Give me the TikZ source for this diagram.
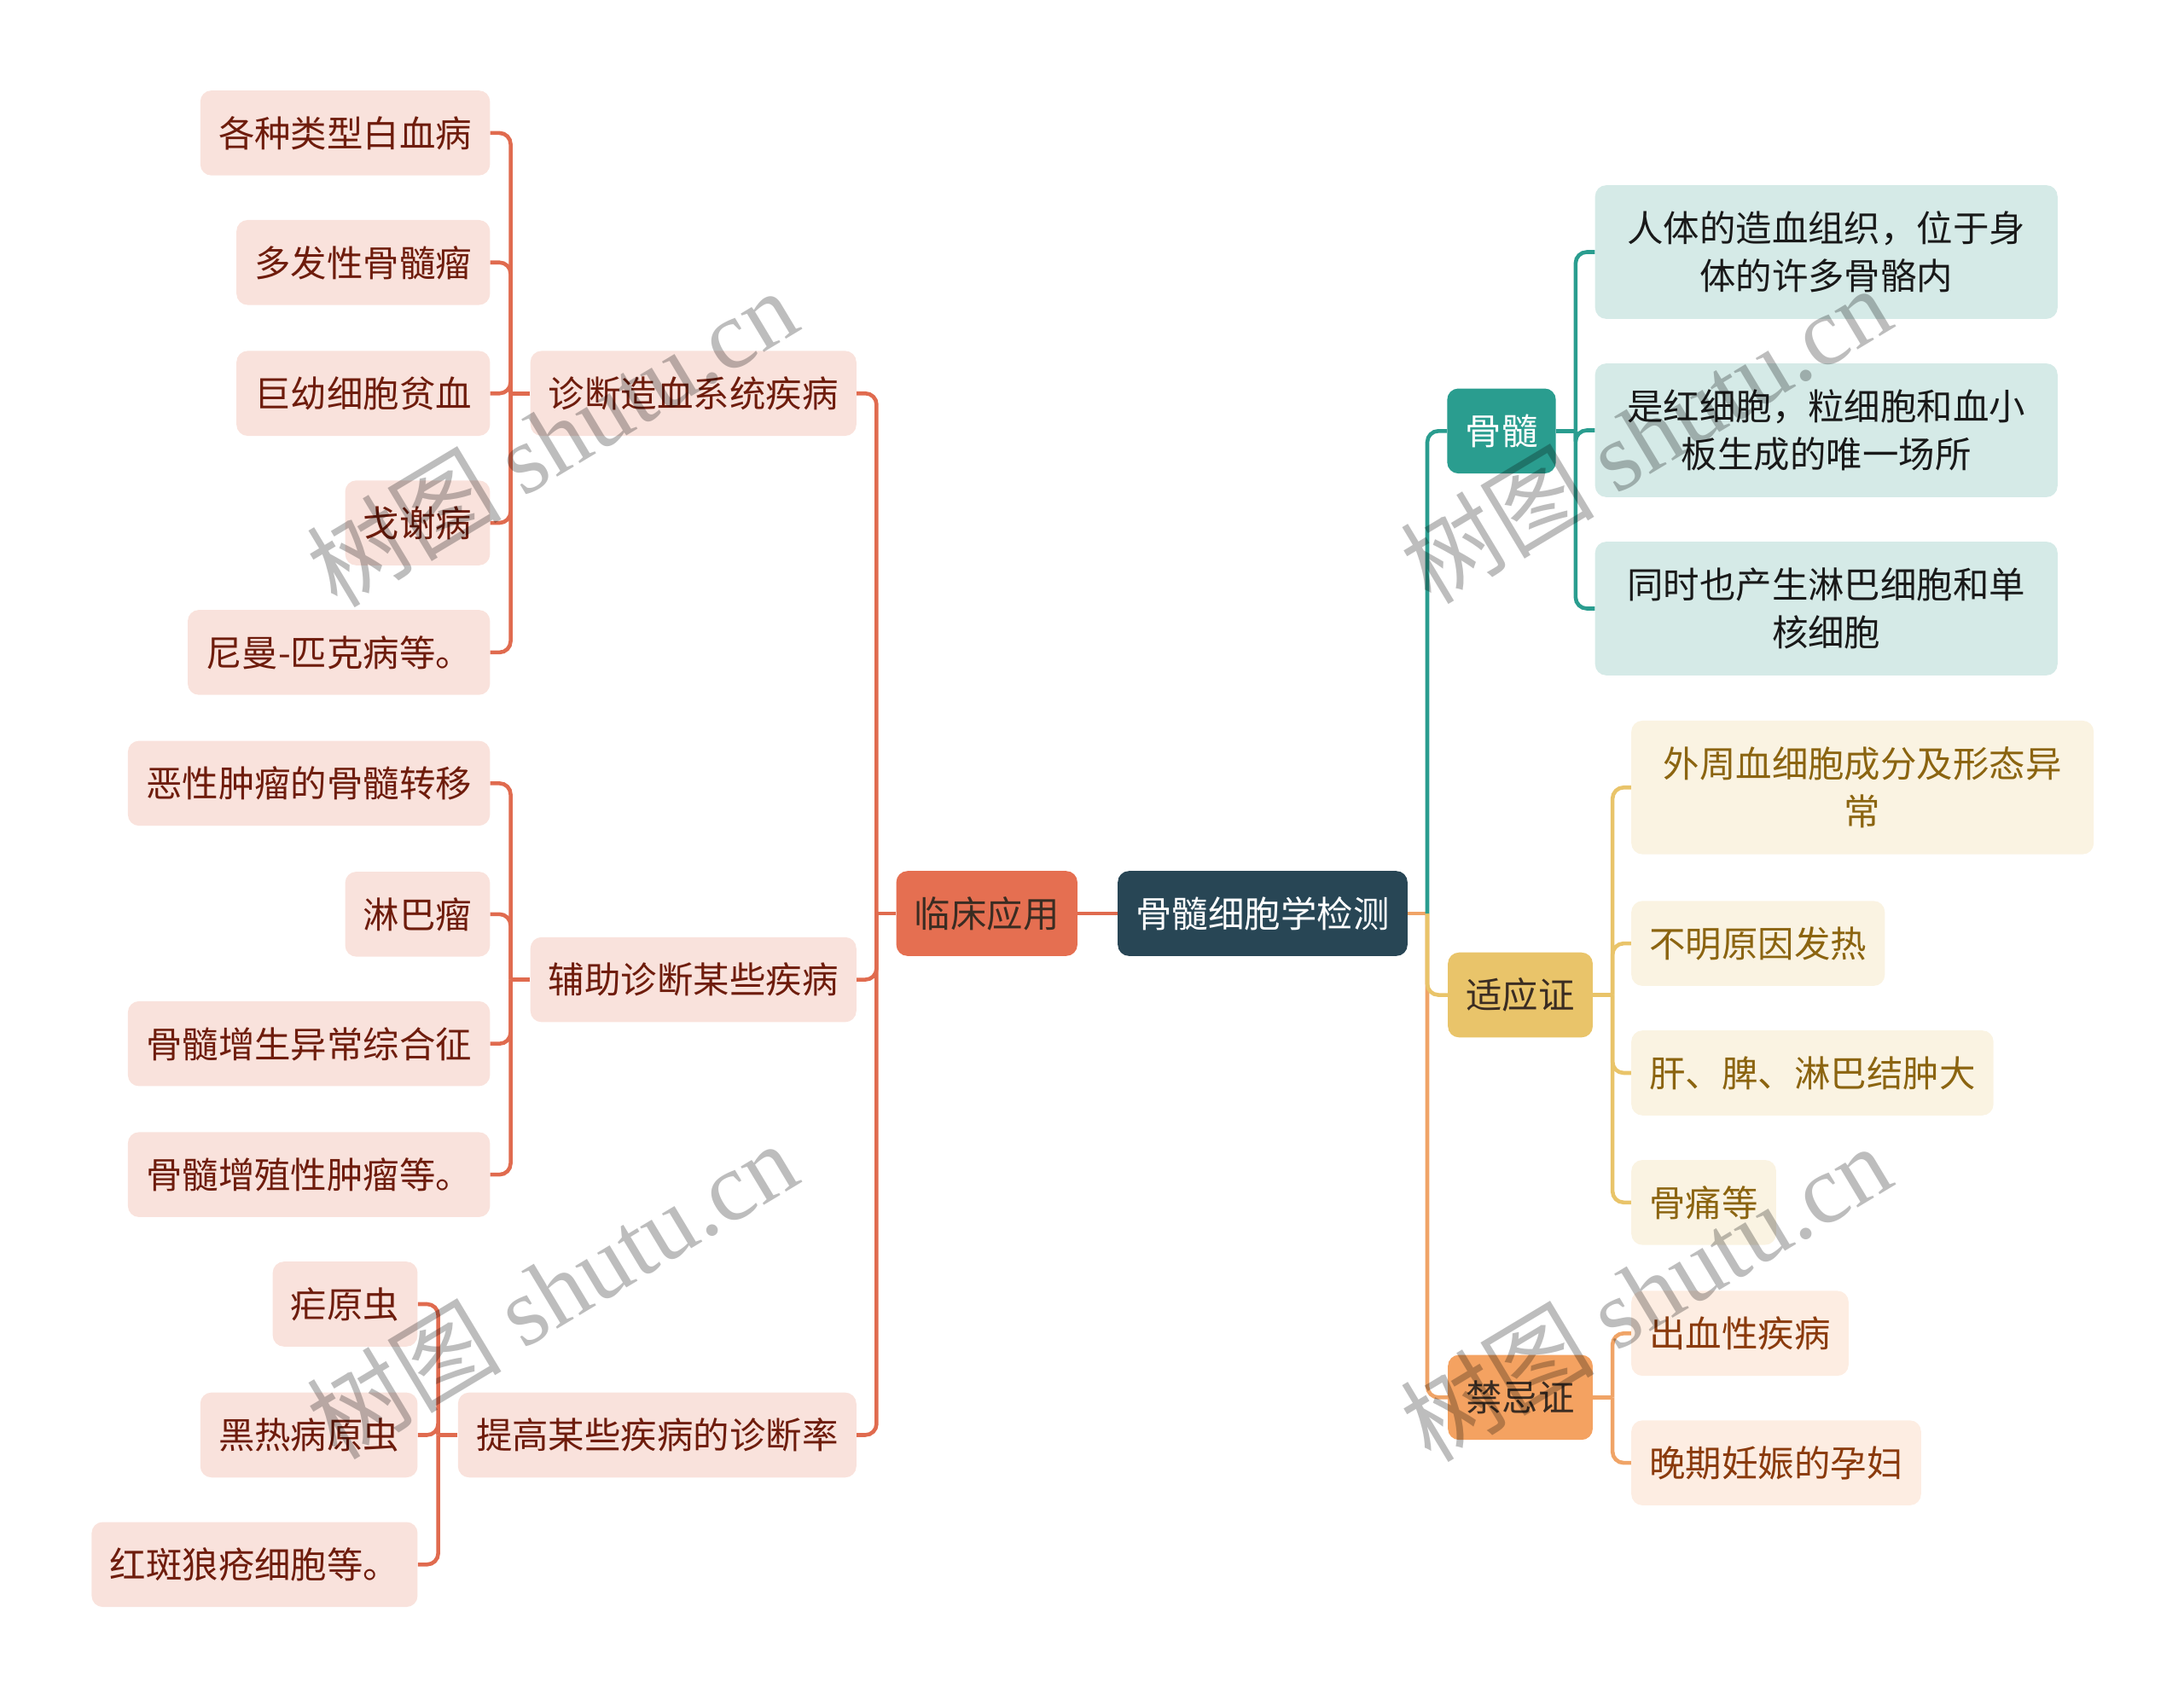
\documentclass[tikz,border=0pt]{standalone}
\usepackage{fontspec}
\setmainfont{Noto Sans CJK SC}
\newfontfamily\wmlatin{Liberation Serif}

\definecolor{rootfill}{HTML}{284655}
\definecolor{redfill}{HTML}{E56F51}
\definecolor{redline}{HTML}{E06B4F}
\definecolor{pinkfill}{HTML}{F9E2DC}
\definecolor{pinktext}{HTML}{6E1C0C}
\definecolor{tealfill}{HTML}{2A9D8F}
\definecolor{tealleaf}{HTML}{D5EAE7}
\definecolor{yellowfill}{HTML}{E9C46A}
\definecolor{yellowleaf}{HTML}{FAF3E2}
\definecolor{yellowtext}{HTML}{8B6410}
\definecolor{orangefill}{HTML}{F4A261}
\definecolor{orangeline}{HTML}{F0A467}
\definecolor{orangeleaf}{HTML}{FDEDE2}
\definecolor{orangetext}{HTML}{8A3A0C}
\definecolor{darktext}{HTML}{3A2C22}

\begin{document}
\begin{tikzpicture}[x=1pt,y=-1pt,
    boxbase/.style={rounded corners=8pt,inner xsep=13pt,inner ysep=0pt,
      minimum height=61pt,font=\fontsize{26}{34}\selectfont},
    box/.style={boxbase,text height=23pt,text depth=3pt},
    widebox/.style={boxbase,minimum height=96pt,minimum width=332pt,
      text width=290pt,align=center},
    leftleaf/.style={box,fill=pinkfill,text=pinktext,anchor=east},
    leftmid/.style={box,fill=pinkfill,text=pinktext,anchor=east},
    tealleafbox/.style={widebox,fill=tealleaf,text=black!90,anchor=west},
    yellowleafbox/.style={box,fill=yellowleaf,text=yellowtext,anchor=west},
    orangeleafbox/.style={box,fill=orangeleaf,text=orangetext,anchor=west},
    link/.style={line width=2.8pt,rounded corners=8pt},
    wm/.style={rotate=31,text=black,text opacity=0.26,font=\fontsize{70}{70}\selectfont}
  ]
  \useasboundingbox (0,0) rectangle (1568,1220);

  % Centre
  \node[box,fill=rootfill,text=white] (root) at (906.5,656) {骨髓细胞学检测};
  \node[box,fill=redfill,text=darktext] (clin) at (708.5,656) {临床应用};

  % Left branches
  \node[leftmid] (diag) at (615,282.5) {诊断造血系统疾病};
  \node[leftmid] (aux) at (615,703.5) {辅助诊断某些疾病};
  \node[leftmid] (rate) at (615,1030.5) {提高某些疾病的诊断率};

  \node[leftleaf] (d1) at (352,95.5) {各种类型白血病};
  \node[leftleaf] (d2) at (352,188.5) {多发性骨髓瘤};
  \node[leftleaf] (d3) at (352,282.5) {巨幼细胞贫血};
  \node[leftleaf] (d4) at (352,375.5) {戈谢病};
  \node[leftleaf] (d5) at (352,468.5) {尼曼-匹克病等。};

  \node[leftleaf] (a1) at (352,562.5) {恶性肿瘤的骨髓转移};
  \node[leftleaf] (a2) at (352,656.5) {淋巴瘤};
  \node[leftleaf] (a3) at (352,749.5) {骨髓增生异常综合征};
  \node[leftleaf] (a4) at (352,843.5) {骨髓增殖性肿瘤等。};

  \node[leftleaf] (r1) at (300,936.5) {疟原虫};
  \node[leftleaf] (r2) at (300,1030.5) {黑热病原虫};
  \node[leftleaf] (r3) at (300,1123.5) {红斑狼疮细胞等。};

  % Right branches
  \node[box,fill=tealfill,text=white] (marrow) at (1078,309.5) {骨髓};
  \node[box,fill=yellowfill,text=darktext] (indic) at (1091.5,714.5) {适应证};
  \node[box,fill=orangefill,text=darktext] (contra) at (1091.5,1003.5) {禁忌证};

  \node[tealleafbox] (m1) at (1145,181) {人体的造血组织，位于身\\体的许多骨骼内};
  \node[tealleafbox] (m2) at (1145,309) {是红细胞，粒细胞和血小\\板生成的唯一场所};
  \node[tealleafbox] (m3) at (1145,437) {同时也产生淋巴细胞和单\\核细胞};

  \node[widebox,fill=yellowleaf,text=yellowtext,anchor=west] (i1) at (1171,565.5) {外周血细胞成分及形态异\\常};
  \node[yellowleafbox] (i2) at (1171,677.5) {不明原因发热};
  \node[yellowleafbox] (i3) at (1171,770.5) {肝、脾、淋巴结肿大};
  \node[yellowleafbox] (i4) at (1171,863.5) {骨痛等};

  \node[orangeleafbox] (c1) at (1171,957.5) {出血性疾病};
  \node[orangeleafbox] (c2) at (1171,1050.5) {晚期妊娠的孕妇};

  % Connectors, left
  \draw[link,redline] (root.west) -- (clin.east);
  \draw[link,redline] (clin.west) -- ++(-14,0) coordinate (jc);
  \foreach \n in {diag,aux,rate}
    \draw[link,redline] (jc) |- (\n.east);
  \draw[link,redline] (diag.west) -- ++(-14,0) coordinate (jd);
  \foreach \n in {d1,d2,d3,d4,d5}
    \draw[link,redline] (jd) |- (\n.east);
  \draw[link,redline] (aux.west) -- ++(-14,0) coordinate (ja);
  \foreach \n in {a1,a2,a3,a4}
    \draw[link,redline] (ja) |- (\n.east);
  \draw[link,redline] (rate.west) -- ++(-14,0) coordinate (jr);
  \foreach \n in {r1,r2,r3}
    \draw[link,redline] (jr) |- (\n.east);

  % Connectors, right
  \draw[link,orangeline] (root.east) -- ++(14,0) coordinate (jroot);
  \draw[link,orangeline] (jroot) |- (contra.west);
  \draw[link,yellowfill] (jroot) |- (indic.west);
  \draw[link,tealfill] (jroot) |- (marrow.west);
  \draw[link,tealfill] (marrow.east) -- ++(14,0) coordinate (jm);
  \foreach \n in {m1,m2,m3}
    \draw[link,tealfill] (jm) |- (\n.west);
  \draw[link,yellowfill] (indic.east) -- ++(14,0) coordinate (ji);
  \foreach \n in {i1,i2,i3,i4}
    \draw[link,yellowfill] (ji) |- (\n.west);
  \draw[link,orangeline] (contra.east) -- ++(14,0) coordinate (jk);
  \foreach \n in {c1,c2}
    \draw[link,orangeline] (jk) |- (\n.west);

  % Watermarks
  \node[wm] (wm1) at (396,314) {树图 {\wmlatin shutu.cn}};
  \node[wm] (wm2) at (396,926) {树图 {\wmlatin shutu.cn}};
  \node[wm] (wm3) at (1181,312) {树图 {\wmlatin shutu.cn}};
  \node[wm] (wm4) at (1181,928) {树图 {\wmlatin shutu.cn}};
\end{tikzpicture}
\end{document}
